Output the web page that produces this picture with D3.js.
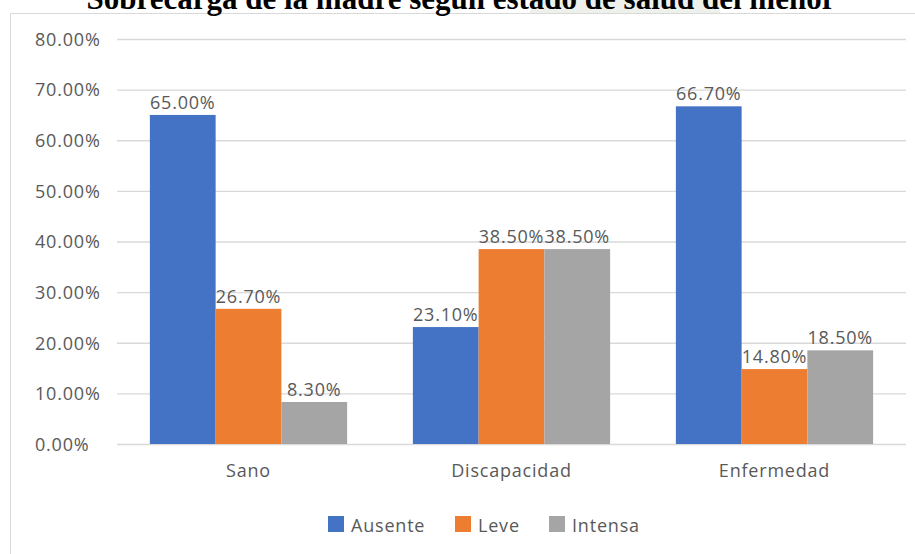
<!DOCTYPE html>
<html lang="es">
<head>
<meta charset="UTF-8">
<title>Sobrecarga de la madre</title>
<style>
  html, body { margin: 0; padding: 0; background: #fff; overflow: hidden; }
  svg { display: block; }
  .lbl { font-family: "Open Sans", sans-serif; fill: #595959; letter-spacing: 0.8px; }
</style>
</head>
<body>
<svg id="chart" width="915" height="554"></svg>
<script src="https://cdn.jsdelivr.net/npm/d3@7"></script>
<script>
// data
const categories = ['Sano', 'Discapacidad', 'Enfermedad'];
const seriesNames = ['Ausente', 'Leve', 'Intensa'];
const ausente = [65.0, 23.1, 66.7];
const leve = [26.7, 38.5, 14.8];
const intensa = [8.3, 38.5, 18.5];
const yTicks = [0, 10, 20, 30, 40, 50, 60, 70, 80];
const colors = ['#4472C4', '#ED7D31', '#A5A5A5'];

const values = [ausente, leve, intensa];
const rows = categories.map((c, i) => ({
  cat: c,
  vals: seriesNames.map((s, j) => ({ key: s, value: values[j][i] }))
}));

const svg = d3.select('#chart');

// outer frame (clipped at right / bottom in the reference)
svg.append('path')
  .attr('d', 'M10.5,554 V13.5 H915')
  .attr('fill', 'none')
  .attr('stroke', '#d9d9d9')
  .attr('stroke-width', 1);

// title, cut at the top like in the source
svg.append('rect')
  .attr('x', 530).attr('y', 0).attr('width', 190).attr('height', 13)
  .attr('fill', '#eef0ec');
svg.append('text')
  .attr('x', 461).attr('y', 9)
  .attr('text-anchor', 'middle')
  .attr('font-family', '"Liberation Serif", "Times New Roman", serif')
  .attr('font-weight', 'bold')
  .attr('font-size', 31)
  .attr('fill', '#000')
  .text('Sobrecarga de la madre según estado de salud del menor');

const plotL = 117, plotR = 906, plotT = 39, plotB = 444;

const x0 = d3.scaleBand().domain(categories).range([plotL, plotR]).padding(0);
const x1 = d3.scaleBand().domain(seriesNames).range([0, x0.bandwidth()])
  .paddingInner(0).paddingOuter(0.5);
const y = d3.scaleLinear().domain([0, 80]).range([plotB, plotT]);
const color = d3.scaleOrdinal().domain(seriesNames).range(colors);

// y axis + grid
const yAxis = d3.axisLeft(y)
  .tickValues(yTicks)
  .tickSize(-(plotR - plotL))
  .tickFormat(d => d3.format('.2f')(d) + '%');

const gy = svg.append('g')
  .attr('transform', `translate(${plotL},0)`)
  .call(yAxis);
gy.select('.domain').remove();
gy.selectAll('.tick line').attr('stroke', '#d9d9d9').attr('stroke-width', 1.3);
gy.selectAll('.tick text')
  .attr('class', 'lbl')
  .attr('font-size', 18)
  .attr('text-anchor', 'start')
  .attr('x', 35 - plotL)
  .attr('dy', '0.35em');

// bars
const groups = svg.append('g').selectAll('g')
  .data(rows)
  .join('g')
  .attr('transform', d => `translate(${x0(d.cat)},0)`);

groups.selectAll('rect')
  .data(d => d.vals)
  .join('rect')
  .attr('x', d => x1(d.key))
  .attr('y', d => y(d.value))
  .attr('width', x1.bandwidth())
  .attr('height', d => y(0) - y(d.value))
  .attr('fill', d => color(d.key));

groups.selectAll('text')
  .data(d => d.vals)
  .join('text')
  .attr('class', 'lbl')
  .attr('font-size', 18)
  .attr('text-anchor', 'middle')
  .attr('x', d => x1(d.key) + x1.bandwidth() / 2)
  .attr('y', d => y(d.value) - 6)
  .text(d => d3.format('.2f')(d.value) + '%');

// x axis labels
const xAxis = d3.axisBottom(x0).tickSize(0);
const gx = svg.append('g')
  .attr('transform', `translate(0,${plotB})`)
  .call(xAxis);
gx.select('.domain').remove();
gx.selectAll('.tick text')
  .attr('class', 'lbl')
  .attr('font-size', 18)
  .attr('y', 33)
  .attr('dy', 0);

// legend
const legendX = [328, 455, 549];
const legend = svg.append('g').selectAll('g')
  .data(seriesNames)
  .join('g')
  .attr('transform', (d, i) => `translate(${legendX[i]},516)`);
legend.append('rect')
  .attr('width', 16).attr('height', 16)
  .attr('fill', d => color(d));
legend.append('text')
  .attr('class', 'lbl')
  .attr('font-size', 18)
  .attr('x', 23).attr('y', 16)
  .text(d => d);
</script>
</body>
</html>
